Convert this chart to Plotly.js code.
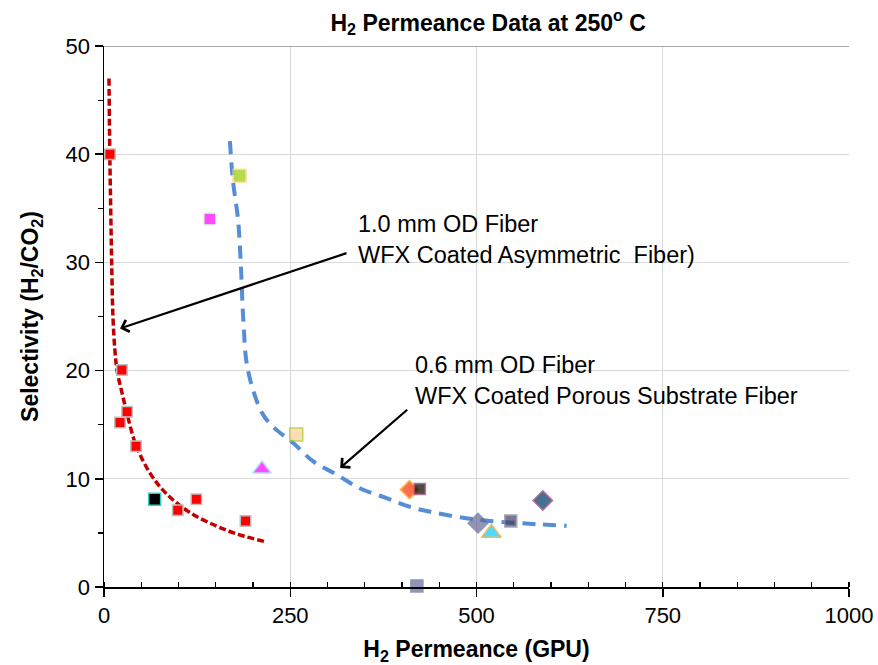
<!DOCTYPE html>
<html>
<head>
<meta charset="utf-8">
<script src="https://cdn.plot.ly/plotly-3.0.1.min.js"></script>
<style>html,body{margin:0;padding:0;background:#fff;}#chart{width:878px;height:665px;}</style>
</head>
<body>
<div id="chart"></div>
<script>
// 1.0 mm OD fiber (WFX coated asymmetric fiber) data
const thickX = [8, 24, 31, 21.5, 43, 124, 99, 190];
const thickY = [40, 20.05, 16.2, 15.2, 13.0, 8.1, 7.1, 6.1];
const thickBlackX = [68];
const thickBlackY = [8.1];

// 0.6 mm OD fiber (WFX coated porous substrate fiber) data
const porousX = [182, 142, 212, 258, 410, 424, 502, 520, 546, 589, 420];
const porousY = [38.0, 34.0, 10.9, 14.1, 9.0, 9.06, 5.9, 5.0, 6.1, 8.0, 0.1];

// Trend curves
const redCurveX = [6.7, 7.8, 9, 10.3, 12, 14.5, 17.5, 24, 31, 43, 62, 84, 115, 152, 183, 216];
const redCurveY = [47, 40, 35, 30, 25, 22, 20, 18, 16, 13.1, 10.5, 8.6, 6.9, 5.6, 4.8, 4.2];
const blueCurveX = [169, 173, 180, 184, 187, 193, 212, 227, 254, 281, 312, 344, 380, 411, 442, 482, 518, 581, 621];
const blueCurveY = [41.2, 37.6, 33.9, 29.3, 24.7, 20.1, 16.1, 14.8, 13.3, 11.6, 10.4, 9.1, 8.2, 7.4, 6.9, 6.4, 6.1, 5.8, 5.65];

// Axis ticks
const xTicks = [0, 250, 500, 750, 1000];
const yTicks = [0, 10, 20, 30, 40, 50];

// Marker styles for porous points
const porousSymbols = ['square','square','triangle-up','square','diamond','square','diamond','triangle-up','square','diamond','square'];
const porousFill = ['#99CC00','#FF00FF','#FF00FF','#FFCC99','#FF3300','#000000','#666699','#00CCFF','#3F3F5F','#003366','#666699'];
const porousLine = ['#FFCC99','#CCFFCC','#99CCFF','#99CC00','#FF9900','#993366','#666699','#FF9900','#8080A8','#993366','#666699'];
const porousSize = [13, 12, 16, 13, 14, 11, 15, 17, 12, 15, 12];

const font = 'Liberation Sans, Arial, sans-serif';

const traces = [
  {x: redCurveX, y: redCurveY, mode: 'lines', line: {color: '#C00000', width: 3.5, dash: '7px,3px', shape: 'spline'}, hoverinfo: 'skip', showlegend: false},
  {x: blueCurveX, y: blueCurveY, mode: 'lines', line: {color: '#558ED5', width: 4, dash: '13px,8px', shape: 'spline'}, hoverinfo: 'skip', showlegend: false},
  {x: thickX, y: thickY, mode: 'markers', marker: {symbol: 'square', size: 10.5, color: '#FF0000', line: {color: '#BFBFBF', width: 1.5}}, showlegend: false, cliponaxis: false},
  {x: thickBlackX, y: thickBlackY, mode: 'markers', marker: {symbol: 'square', size: 12, color: '#000000', line: {color: '#33CCCC', width: 1.5}}, showlegend: false, cliponaxis: false},
  {x: porousX, y: porousY, mode: 'markers', marker: {symbol: porousSymbols, size: porousSize, color: porousFill, line: {color: porousLine, width: 1.5}}, showlegend: false, cliponaxis: false}
];

const layout = {
  width: 878, height: 665,
  margin: {l: 104, r: 29, t: 46, b: 78},
  paper_bgcolor: '#fff', plot_bgcolor: '#fff',
  font: {family: font, color: '#000'},
  title: {text: '<b>H<sub>2</sub> Permeance Data at 250<sup>o</sup> C</b>', font: {size: 23, family: font, color: '#000'}, x: 0.556, xanchor: 'center', y: 0.966, yanchor: 'middle'},
  xaxis: {
    range: [0, 1000], tickvals: xTicks, ticktext: xTicks.map(String),
    showgrid: true, gridcolor: '#D9D9D9', gridwidth: 1,
    showline: true, linecolor: '#000', linewidth: 1.5,
    ticks: 'outside', ticklen: 8, tickcolor: '#000', tickwidth: 1.5,
    minor: {dtick: 50, ticks: 'inside', ticklen: 5, tickcolor: '#000', tickwidth: 1.2, showgrid: false},
    tickfont: {size: 22, family: font},
    zeroline: false,
    title: {text: '<b>H<sub>2</sub> Permeance (GPU)</b>', font: {size: 23, family: font}, standoff: 16}
  },
  yaxis: {
    range: [0, 50], tickvals: yTicks, ticktext: yTicks.map(String),
    showgrid: true, gridcolor: '#D9D9D9', gridwidth: 1,
    showline: true, linecolor: '#000', linewidth: 1.5,
    ticks: 'outside', ticklen: 8, tickcolor: '#000', tickwidth: 1.5,
    minor: {dtick: 5, ticks: 'outside', ticklen: 5, tickcolor: '#000', tickwidth: 1.2, showgrid: false},
    tickfont: {size: 22, family: font},
    zeroline: false,
    title: {text: '<b>Selectivity (H<sub>2</sub>/CO<sub>2</sub>)</b>', font: {size: 23, family: font}, standoff: 20}
  },
  shapes: [
    {type: 'line', xref: 'paper', yref: 'y', x0: 0, x1: 1, y0: 50, y1: 50, line: {color: '#5A5A5A', width: 1}}
  ],
  annotations: [
    {x: 21.5, y: 23.9, ax: 327.5, ay: 30.9, xref: 'x', yref: 'y', axref: 'x', ayref: 'y', text: '', showarrow: true, arrowhead: 4, arrowsize: 1.1, arrowwidth: 2.2, arrowcolor: '#000'},
    {x: 317, y: 11.0, ax: 409, ay: 16.5, xref: 'x', yref: 'y', axref: 'x', ayref: 'y', text: '', showarrow: true, arrowhead: 4, arrowsize: 1.1, arrowwidth: 2.2, arrowcolor: '#000'},
    {x: 338, y: 32.1, xref: 'x', yref: 'y', xanchor: 'left', yanchor: 'middle', align: 'left', showarrow: false, text: '1.0 mm OD Fiber<br>WFX Coated Asymmetric  Fiber)', font: {size: 23.5, family: font, color: '#000'}},
    {x: 415, y: 19.1, xref: 'x', yref: 'y', xanchor: 'left', yanchor: 'middle', align: 'left', showarrow: false, text: '0.6 mm OD Fiber<br>WFX Coated Porous Substrate Fiber', font: {size: 23.5, family: font, color: '#000'}}
  ]
};

Plotly.newPlot('chart', traces, layout, {displayModeBar: false, staticPlot: true});
</script>
</body>
</html>
